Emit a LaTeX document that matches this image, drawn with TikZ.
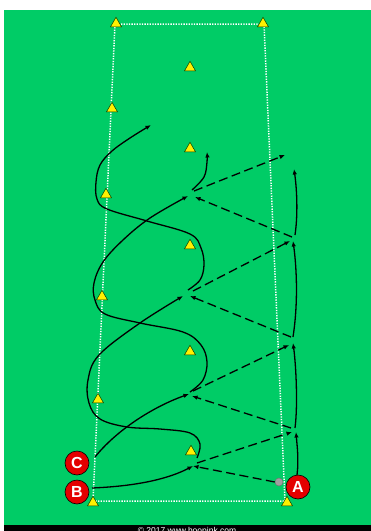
\documentclass[tikz,border=0pt]{standalone}
\usepackage{fontspec}
\setmainfont{Liberation Sans}
\usetikzlibrary{arrows.meta,shapes.geometric}
\definecolor{pitch}{RGB}{0,204,102}
\definecolor{playerred}{RGB}{228,0,0}
\definecolor{conefill}{RGB}{255,240,0}
\begin{document}
\begin{tikzpicture}[x=1pt,y=-1pt,
  run/.style={line width=1.3pt, -{Latex[length=5.5pt,width=4.5pt]}},
  pass/.style={run, dash pattern=on 9pt off 4.5pt},
  boundary/.style={white, line width=1.5pt, dash pattern=on 1.3pt off 1.3pt},
  cone/.style={regular polygon, regular polygon sides=3, minimum size=12.7pt, inner sep=0pt, fill=conefill, draw=black!60!green!60!black, line width=0.5pt},
  player/.style={circle, fill=playerred, draw=black, line width=0.6pt, minimum size=24pt, inner sep=0pt, text=white, font=\bfseries\fontsize{16}{16}\selectfont},
  ball/.style={circle, fill=gray!75, draw=black!55, line width=0.5pt, minimum size=8pt, inner sep=0pt}]
\useasboundingbox (0,0) rectangle (371,531);
\fill[white] (0,0) rectangle (371,531);
\fill[pitch] (4,10) rectangle (371,525);
\fill[black] (4,525) rectangle (371,531);
\begin{scope}
  \clip (4,525) rectangle (371,531);
  \node[anchor=north, inner sep=0pt, text=white, font=\fontsize{8.5}{9}\selectfont] (credit) at (187,527) {© 2017 www.hoopink.com};
\end{scope}

% boundary corners
\coordinate (tl) at (115,24);
\coordinate (tr) at (264,24);
\coordinate (bl) at (93,501);
\coordinate (br) at (285,501);
\draw[boundary] (bl) -- (tl) -- (tr) -- (br) -- cycle;

% cones
\foreach \n/\x/\y in {k1/116/22, k2/263/22, k3/190/66, k4/112/107, k5/190/147, k6/106/193,
  k7/190/244, k8/102/295, k9/190/350, k10/98/398, k11/191/450, k12/93/501, k13/287/501}
  \node[cone] (\n) at (\x,\y+1.6) {};

% players and ball
\node[player] (C) at (77,463) {C};
\node[player] (B) at (77,492) {B};
\node[player] (A) at (298,487) {A};
\node[ball] (ball) at (279,482) {};

% receiving spots
\coordinate (c1) at (193,466);
\coordinate (c2) at (189,394);
\coordinate (c3) at (186,296);
\coordinate (c4) at (190,196);
\coordinate (r1) at (292,432);
\coordinate (r2) at (289,345);
\coordinate (r3) at (290,241);
\coordinate (r4) at (285,155);

% passes
\draw[pass] (ball.west) -- (c1);
\draw[pass] (197,463) -- (r1);
\draw[pass] (291,428) -- (192,396);
\draw[pass] (193,391) -- (r2);
\draw[pass] (291,337) -- (190,296);
\draw[pass] (193,291) -- (r3);
\draw[pass] (292,237) -- (195,197);
\draw[pass] (194,191) -- (r4);

% A runs
\draw[run] (297,475) .. controls (299,460) and (297,445) .. (296,432);
\draw[run] (295,428) .. controls (298,405) and (296,365) .. (293,343);
\draw[run] (293,337) .. controls (298,305) and (297,270) .. (293,241);
\draw[run] (295,235) .. controls (298,215) and (297,190) .. (294,169);

% B and C runs
\draw[run] (92,488) .. controls (140,486) and (170,478) .. (c1);
\draw[run] (95,457) .. controls (115,432) and (150,408) .. (c2);
\draw[run] plot[smooth, tension=0.6] coordinates {(197,458) (200,444) (190,433) (160,429) (127,427) (100,419) (89,403) (88,380) (99,355) (140,323) (183,296)};
\draw[run] plot[smooth, tension=0.6] coordinates {(190,392) (203,380) (207,362) (201,345) (183,332) (140,323) (105,314) (95,300) (94,283) (103,262) (123,240) (150,218) (188,196)};
\draw[run] plot[smooth, tension=0.6] coordinates {(188,290) (200,280) (204,265) (201,248) (190,234) (147,221) (107,209) (97,199) (96,182) (100,165) (112,151) (130,138) (151,125)};
\draw[run] plot[smooth, tension=0.6] coordinates {(192,190) (204,177) (207,162) (207,152)};
\end{tikzpicture}
\end{document}
